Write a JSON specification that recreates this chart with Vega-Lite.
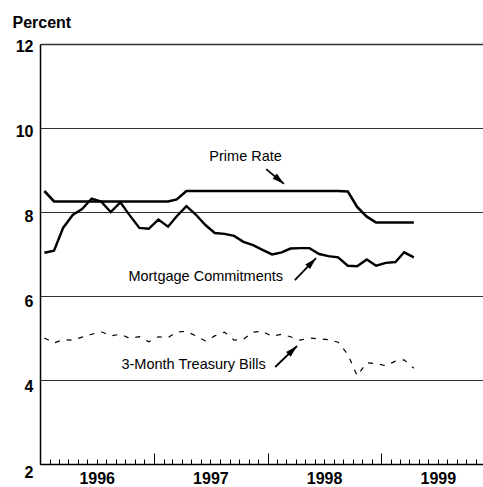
{
  "$schema": "https://vega.github.io/schema/vega-lite/v6.json",
  "width": 443,
  "height": 420,
  "autosize": {"type": "none"},
  "padding": {"left": 40, "top": 44, "right": 0, "bottom": 23},
  "background": "white",
  "config": {"view": {"stroke": null}, "font": "Liberation Sans"},
  "datasets": {
    "rates": [
      {"series": "Prime Rate", "date": "1996-01-15", "value": 8.50},
      {"series": "Prime Rate", "date": "1996-02-15", "value": 8.25},
      {"series": "Prime Rate", "date": "1996-03-15", "value": 8.25},
      {"series": "Prime Rate", "date": "1996-04-15", "value": 8.25},
      {"series": "Prime Rate", "date": "1996-05-15", "value": 8.25},
      {"series": "Prime Rate", "date": "1996-06-15", "value": 8.25},
      {"series": "Prime Rate", "date": "1996-07-15", "value": 8.25},
      {"series": "Prime Rate", "date": "1996-08-15", "value": 8.25},
      {"series": "Prime Rate", "date": "1996-09-15", "value": 8.25},
      {"series": "Prime Rate", "date": "1996-10-15", "value": 8.25},
      {"series": "Prime Rate", "date": "1996-11-15", "value": 8.25},
      {"series": "Prime Rate", "date": "1996-12-15", "value": 8.25},
      {"series": "Prime Rate", "date": "1997-01-15", "value": 8.25},
      {"series": "Prime Rate", "date": "1997-02-15", "value": 8.25},
      {"series": "Prime Rate", "date": "1997-03-15", "value": 8.30},
      {"series": "Prime Rate", "date": "1997-04-15", "value": 8.50},
      {"series": "Prime Rate", "date": "1997-05-15", "value": 8.50},
      {"series": "Prime Rate", "date": "1997-06-15", "value": 8.50},
      {"series": "Prime Rate", "date": "1997-07-15", "value": 8.50},
      {"series": "Prime Rate", "date": "1997-08-15", "value": 8.50},
      {"series": "Prime Rate", "date": "1997-09-15", "value": 8.50},
      {"series": "Prime Rate", "date": "1997-10-15", "value": 8.50},
      {"series": "Prime Rate", "date": "1997-11-15", "value": 8.50},
      {"series": "Prime Rate", "date": "1997-12-15", "value": 8.50},
      {"series": "Prime Rate", "date": "1998-01-15", "value": 8.50},
      {"series": "Prime Rate", "date": "1998-02-15", "value": 8.50},
      {"series": "Prime Rate", "date": "1998-03-15", "value": 8.50},
      {"series": "Prime Rate", "date": "1998-04-15", "value": 8.50},
      {"series": "Prime Rate", "date": "1998-05-15", "value": 8.50},
      {"series": "Prime Rate", "date": "1998-06-15", "value": 8.50},
      {"series": "Prime Rate", "date": "1998-07-15", "value": 8.50},
      {"series": "Prime Rate", "date": "1998-08-15", "value": 8.50},
      {"series": "Prime Rate", "date": "1998-09-15", "value": 8.49},
      {"series": "Prime Rate", "date": "1998-10-15", "value": 8.12},
      {"series": "Prime Rate", "date": "1998-11-15", "value": 7.89},
      {"series": "Prime Rate", "date": "1998-12-15", "value": 7.75},
      {"series": "Prime Rate", "date": "1999-01-15", "value": 7.75},
      {"series": "Prime Rate", "date": "1999-02-15", "value": 7.75},
      {"series": "Prime Rate", "date": "1999-03-15", "value": 7.75},
      {"series": "Prime Rate", "date": "1999-04-15", "value": 7.75},
      {"series": "Mortgage", "date": "1996-01-15", "value": 7.03},
      {"series": "Mortgage", "date": "1996-02-15", "value": 7.08},
      {"series": "Mortgage", "date": "1996-03-15", "value": 7.62},
      {"series": "Mortgage", "date": "1996-04-15", "value": 7.93},
      {"series": "Mortgage", "date": "1996-05-15", "value": 8.07},
      {"series": "Mortgage", "date": "1996-06-15", "value": 8.32},
      {"series": "Mortgage", "date": "1996-07-15", "value": 8.25},
      {"series": "Mortgage", "date": "1996-08-15", "value": 8.00},
      {"series": "Mortgage", "date": "1996-09-15", "value": 8.23},
      {"series": "Mortgage", "date": "1996-10-15", "value": 7.92},
      {"series": "Mortgage", "date": "1996-11-15", "value": 7.62},
      {"series": "Mortgage", "date": "1996-12-15", "value": 7.60},
      {"series": "Mortgage", "date": "1997-01-15", "value": 7.82},
      {"series": "Mortgage", "date": "1997-02-15", "value": 7.65},
      {"series": "Mortgage", "date": "1997-03-15", "value": 7.90},
      {"series": "Mortgage", "date": "1997-04-15", "value": 8.14},
      {"series": "Mortgage", "date": "1997-05-15", "value": 7.94},
      {"series": "Mortgage", "date": "1997-06-15", "value": 7.69},
      {"series": "Mortgage", "date": "1997-07-15", "value": 7.50},
      {"series": "Mortgage", "date": "1997-08-15", "value": 7.48},
      {"series": "Mortgage", "date": "1997-09-15", "value": 7.43},
      {"series": "Mortgage", "date": "1997-10-15", "value": 7.29},
      {"series": "Mortgage", "date": "1997-11-15", "value": 7.21},
      {"series": "Mortgage", "date": "1997-12-15", "value": 7.10},
      {"series": "Mortgage", "date": "1998-01-15", "value": 6.99},
      {"series": "Mortgage", "date": "1998-02-15", "value": 7.04},
      {"series": "Mortgage", "date": "1998-03-15", "value": 7.13},
      {"series": "Mortgage", "date": "1998-04-15", "value": 7.14},
      {"series": "Mortgage", "date": "1998-05-15", "value": 7.14},
      {"series": "Mortgage", "date": "1998-06-15", "value": 7.00},
      {"series": "Mortgage", "date": "1998-07-15", "value": 6.95},
      {"series": "Mortgage", "date": "1998-08-15", "value": 6.92},
      {"series": "Mortgage", "date": "1998-09-15", "value": 6.72},
      {"series": "Mortgage", "date": "1998-10-15", "value": 6.71},
      {"series": "Mortgage", "date": "1998-11-15", "value": 6.87},
      {"series": "Mortgage", "date": "1998-12-15", "value": 6.72},
      {"series": "Mortgage", "date": "1999-01-15", "value": 6.79},
      {"series": "Mortgage", "date": "1999-02-15", "value": 6.81},
      {"series": "Mortgage", "date": "1999-03-15", "value": 7.04},
      {"series": "Mortgage", "date": "1999-04-15", "value": 6.92},
      {"series": "T-Bills", "date": "1996-01-15", "value": 5.00},
      {"series": "T-Bills", "date": "1996-02-15", "value": 4.88},
      {"series": "T-Bills", "date": "1996-03-15", "value": 4.96},
      {"series": "T-Bills", "date": "1996-04-15", "value": 4.95},
      {"series": "T-Bills", "date": "1996-05-15", "value": 5.02},
      {"series": "T-Bills", "date": "1996-06-15", "value": 5.09},
      {"series": "T-Bills", "date": "1996-07-15", "value": 5.15},
      {"series": "T-Bills", "date": "1996-08-15", "value": 5.05},
      {"series": "T-Bills", "date": "1996-09-15", "value": 5.09},
      {"series": "T-Bills", "date": "1996-10-15", "value": 4.99},
      {"series": "T-Bills", "date": "1996-11-15", "value": 5.03},
      {"series": "T-Bills", "date": "1996-12-15", "value": 4.91},
      {"series": "T-Bills", "date": "1997-01-15", "value": 5.03},
      {"series": "T-Bills", "date": "1997-02-15", "value": 5.01},
      {"series": "T-Bills", "date": "1997-03-15", "value": 5.14},
      {"series": "T-Bills", "date": "1997-04-15", "value": 5.16},
      {"series": "T-Bills", "date": "1997-05-15", "value": 5.05},
      {"series": "T-Bills", "date": "1997-06-15", "value": 4.93},
      {"series": "T-Bills", "date": "1997-07-15", "value": 5.05},
      {"series": "T-Bills", "date": "1997-08-15", "value": 5.14},
      {"series": "T-Bills", "date": "1997-09-15", "value": 4.95},
      {"series": "T-Bills", "date": "1997-10-15", "value": 4.97},
      {"series": "T-Bills", "date": "1997-11-15", "value": 5.14},
      {"series": "T-Bills", "date": "1997-12-15", "value": 5.16},
      {"series": "T-Bills", "date": "1998-01-15", "value": 5.04},
      {"series": "T-Bills", "date": "1998-02-15", "value": 5.09},
      {"series": "T-Bills", "date": "1998-03-15", "value": 5.03},
      {"series": "T-Bills", "date": "1998-04-15", "value": 4.95},
      {"series": "T-Bills", "date": "1998-05-15", "value": 5.00},
      {"series": "T-Bills", "date": "1998-06-15", "value": 4.98},
      {"series": "T-Bills", "date": "1998-07-15", "value": 4.96},
      {"series": "T-Bills", "date": "1998-08-15", "value": 4.90},
      {"series": "T-Bills", "date": "1998-09-15", "value": 4.61},
      {"series": "T-Bills", "date": "1998-10-15", "value": 4.10},
      {"series": "T-Bills", "date": "1998-11-15", "value": 4.41},
      {"series": "T-Bills", "date": "1998-12-15", "value": 4.39},
      {"series": "T-Bills", "date": "1999-01-15", "value": 4.34},
      {"series": "T-Bills", "date": "1999-02-15", "value": 4.45},
      {"series": "T-Bills", "date": "1999-03-15", "value": 4.48},
      {"series": "T-Bills", "date": "1999-04-15", "value": 4.28}
    ],
    "labels": [
      {"text": "Prime Rate", "date": "1997-10-22", "value": 9.21},
      {"text": "Mortgage Commitments", "date": "1997-06-16", "value": 6.36},
      {"text": "3-Month Treasury Bills", "date": "1997-05-08", "value": 4.26}
    ],
    "arrows": [
      {"arrow": "prime", "date": "1998-02-22", "value": 8.67, "date0": "1997-12-27", "value0": 9.02},
      {"arrow": "mortgage", "date": "1998-06-05", "value": 6.90, "date0": "1998-03-29", "value0": 6.38},
      {"arrow": "tbill", "date": "1998-04-05", "value": 4.81, "date0": "1998-01-25", "value0": 4.31}
    ]
  },
  "encoding": {
    "x": {
      "field": "date",
      "type": "temporal",
      "scale": {"domain": ["1996-01-01", "1999-11-23"]},
      "axis": {
        "title": null,
        "grid": false,
        "tickCount": {"interval": "month", "step": 1},
        "tickSize": {"expr": "month(datum.value) == 0 ? -11 : -5"},
        "tickColor": "black",
        "tickWidth": 1,
        "domainColor": "black",
        "domainWidth": 1.5,
        "labelExpr": "month(datum.value) == 6 ? timeFormat(datum.value, '%Y') : ''",
        "labelFontSize": 16,
        "labelFontWeight": "bold",
        "labelColor": "black",
        "labelPadding": 11,
        "labelOverlap": false,
        "labelFlush": false
      }
    },
    "y": {
      "field": "value",
      "type": "quantitative",
      "scale": {"domain": [2, 12]},
      "axis": {
        "title": "Percent",
        "titleAngle": 0,
        "titleAlign": "left",
        "titleBaseline": "alphabetic",
        "titleX": -28,
        "titleY": -17,
        "titleFontSize": 16,
        "titleFontWeight": "bold",
        "titleColor": "black",
        "values": [2, 4, 6, 8, 10, 12],
        "grid": true,
        "gridColor": "#333333",
        "gridOpacity": 1,
        "gridWidth": {"expr": "datum.value == 12 ? 1.6 : 1"},
        "ticks": false,
        "domainColor": "black",
        "domainWidth": 1.5,
        "labelFontSize": 16,
        "labelFontWeight": "bold",
        "labelColor": "black",
        "labelPadding": 7,
        "labelOffset": {"expr": "2 + (12 - datum.value) * 0.6"}
      }
    }
  },
  "layer": [
    {
      "data": {"name": "rates"},
      "transform": [{"filter": "datum.series == 'Prime Rate'"}],
      "mark": {"type": "line", "color": "black", "strokeWidth": 2.6}
    },
    {
      "data": {"name": "rates"},
      "transform": [{"filter": "datum.series == 'Mortgage'"}],
      "mark": {"type": "line", "color": "black", "strokeWidth": 2.4}
    },
    {
      "data": {"name": "rates"},
      "transform": [{"filter": "datum.series == 'T-Bills'"}],
      "mark": {"type": "line", "color": "black", "strokeWidth": 1.2, "strokeDash": [5, 7]}
    },
    {
      "data": {"name": "labels"},
      "mark": {"type": "text", "font": "Liberation Sans", "fontSize": 14.5, "align": "center", "baseline": "alphabetic", "color": "black"},
      "encoding": {"text": {"field": "text"}}
    },
    {
      "data": {"name": "arrows"},
      "mark": {"type": "rule", "color": "black", "strokeWidth": 1.8},
      "encoding": {"x2": {"field": "date0"}, "y2": {"field": "value0"}}
    },
    {
      "data": {"name": "arrows"},
      "transform": [{"filter": "datum.arrow == 'prime'"}],
      "mark": {"type": "point", "shape": "M0,0L-0.55,2L0.55,2Z", "filled": true, "size": 144, "color": "black", "opacity": 1, "strokeWidth": 0, "angle": 130}
    },
    {
      "data": {"name": "arrows"},
      "transform": [{"filter": "datum.arrow == 'mortgage'"}],
      "mark": {"type": "point", "shape": "M0,0L-0.55,2L0.55,2Z", "filled": true, "size": 144, "color": "black", "opacity": 1, "strokeWidth": 0, "angle": 44}
    },
    {
      "data": {"name": "arrows"},
      "transform": [{"filter": "datum.arrow == 'tbill'"}],
      "mark": {"type": "point", "shape": "M0,0L-0.55,2L0.55,2Z", "filled": true, "size": 144, "color": "black", "opacity": 1, "strokeWidth": 0, "angle": 46}
    }
  ]
}
